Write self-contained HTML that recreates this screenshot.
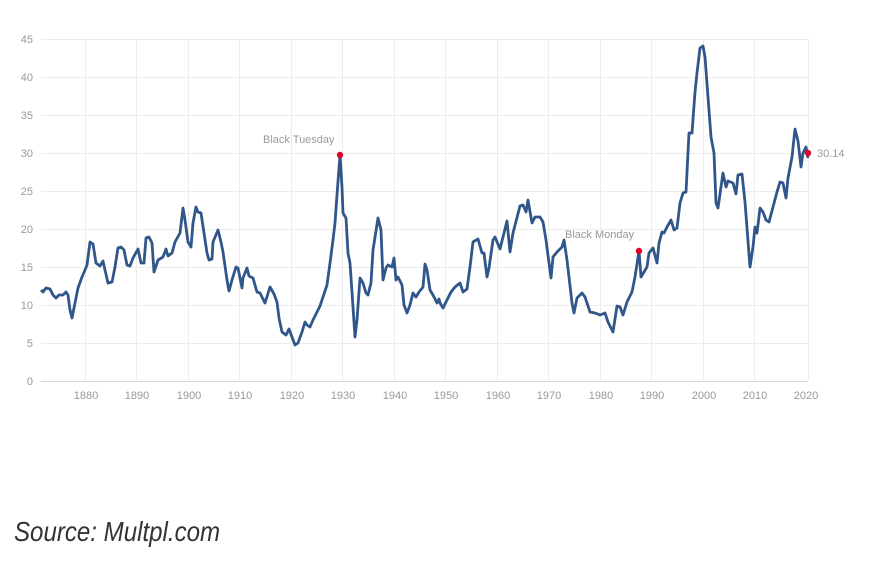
<!DOCTYPE html>
<html><head><meta charset="utf-8"><style>
body{margin:0;background:#fff;width:875px;height:565px;overflow:hidden}
svg{position:absolute;left:0;top:0}
.t{font-family:"Liberation Sans",sans-serif;font-size:11px;fill:#999}
.src{position:absolute;left:14px;top:516px;font-family:"Liberation Sans Narrow","Liberation Sans",sans-serif;font-style:italic;font-size:28px;color:#333;transform:scaleX(0.86);transform-origin:0 0;white-space:nowrap}
</style></head><body>
<svg width="875" height="565">
<g stroke="#ececec" stroke-width="1">
<line x1="41" x2="808" y1="39.5" y2="39.5"/><line x1="41" x2="808" y1="77.5" y2="77.5"/><line x1="41" x2="808" y1="115.5" y2="115.5"/><line x1="41" x2="808" y1="153.5" y2="153.5"/><line x1="41" x2="808" y1="191.5" y2="191.5"/><line x1="41" x2="808" y1="229.5" y2="229.5"/><line x1="41" x2="808" y1="267.5" y2="267.5"/><line x1="41" x2="808" y1="305.5" y2="305.5"/><line x1="41" x2="808" y1="343.5" y2="343.5"/>
<line y1="39" y2="381" x1="85.5" x2="85.5"/><line y1="39" y2="381" x1="136.5" x2="136.5"/><line y1="39" y2="381" x1="188.5" x2="188.5"/><line y1="39" y2="381" x1="239.5" x2="239.5"/><line y1="39" y2="381" x1="291.5" x2="291.5"/><line y1="39" y2="381" x1="342.5" x2="342.5"/><line y1="39" y2="381" x1="394.5" x2="394.5"/><line y1="39" y2="381" x1="445.5" x2="445.5"/><line y1="39" y2="381" x1="497.5" x2="497.5"/><line y1="39" y2="381" x1="548.5" x2="548.5"/><line y1="39" y2="381" x1="600.5" x2="600.5"/><line y1="39" y2="381" x1="651.5" x2="651.5"/><line y1="39" y2="381" x1="703.5" x2="703.5"/><line y1="39" y2="381" x1="754.5" x2="754.5"/><line y1="39" y2="381" x1="808.5" x2="808.5"/>
</g>
<line x1="41" x2="808" y1="381.5" y2="381.5" stroke="#d8d8d8"/>
<g class="t" text-anchor="end">
<text x="33" y="43">45</text><text x="33" y="81">40</text><text x="33" y="119">35</text><text x="33" y="157">30</text><text x="33" y="195">25</text><text x="33" y="233">20</text><text x="33" y="271">15</text><text x="33" y="309">10</text><text x="33" y="347">5</text><text x="33" y="385">0</text>
</g>
<g class="t" text-anchor="middle">
<text x="86" y="399">1880</text><text x="137" y="399">1890</text><text x="189" y="399">1900</text><text x="240" y="399">1910</text><text x="292" y="399">1920</text><text x="343" y="399">1930</text><text x="395" y="399">1940</text><text x="446" y="399">1950</text><text x="498" y="399">1960</text><text x="549" y="399">1970</text><text x="601" y="399">1980</text><text x="652" y="399">1990</text><text x="704" y="399">2000</text><text x="755" y="399">2010</text><text x="806" y="399">2020</text>
</g>
<polyline fill="none" stroke="#30568a" stroke-width="2.8" stroke-linejoin="round" points="41,290 43,292 46,288 50,289 53,295 56,298 59,295 63,295 66,292 68,295 70,310 72,318 75,303 78,288 82,277 85,270 87,265 90,242 93,244 96,263 100,266 103,261 105,270 108,283 112,282 115,267 118,248 121,247 124,250 127,265 130,266 133,258 138,249 141,263 144,263 146,238 149,237 152,243 154,272 158,260 163,257 166,249 168,256 172,253 175,242 180,233 183,208 185,220 188,242 191,247 193,223 196,207 198,212 201,213 204,233 207,253 209,260 212,259 213,242 218,230 221,242 223,252 227,280 229,291 232,280 236,267 238,268 242,288 243,278 247,268 249,276 253,278 257,292 260,293 265,303 270,287 274,294 277,302 279,318 282,332 286,335 289,329 292,337 295,345 298,343 302,332 305,322 307,325 310,327 313,320 317,312 320,306 323,297 327,285 330,263 333,240 335,223 337,195 340,155 342,187 343,213 346,218 348,253 350,263 353,307 355,337 357,320 360,278 363,283 366,293 368,295 371,283 373,250 378,218 381,230 383,280 386,268 388,265 392,267 394,258 396,280 398,277 402,285 404,305 407,313 410,305 413,293 416,297 419,292 423,287 425,264 427,270 430,290 433,295 437,303 439,299 440,303 443,308 447,300 451,292 455,287 460,283 463,292 467,289 470,267 473,242 478,239 482,253 484,253 487,277 489,268 493,240 495,237 500,249 507,221 510,252 513,233 520,206 523,205 526,212 528,200 532,223 535,217 540,217 543,222 546,240 551,278 553,257 557,252 562,247 564,240 567,260 572,303 574,313 577,298 582,293 585,297 590,312 595,313 600,315 605,313 608,322 613,332 617,306 620,307 623,315 627,302 632,292 635,277 639,251 641,277 647,267 649,253 653,248 657,263 659,243 662,232 664,233 667,227 671,220 674,230 677,228 680,203 683,193 686,192 689,133 692,133 695,92 697,73 700,48 703,46 705,57 711,137 714,153 716,203 718,208 723,173 726,187 728,181 733,183 736,194 738,175 742,174 745,202 750,267 753,247 755,227 757,233 760,208 763,212 766,220 769,222 773,207 777,192 780,182 783,183 786,198 788,178 792,157 795,129 798,141 801,167 803,153 806,147 808,158"/>
<circle cx="340" cy="155" r="3.2" fill="#e0002a"/><circle cx="639" cy="251" r="3.2" fill="#e0002a"/><circle cx="808" cy="153" r="3.2" fill="#e0002a"/>
<text class="t" x="263" y="143">Black Tuesday</text>
<text class="t" x="565" y="238">Black Monday</text>
<text class="t" x="817" y="157">30.14</text>
</svg>
<div class="src">Source: Multpl.com</div>
</body></html>
